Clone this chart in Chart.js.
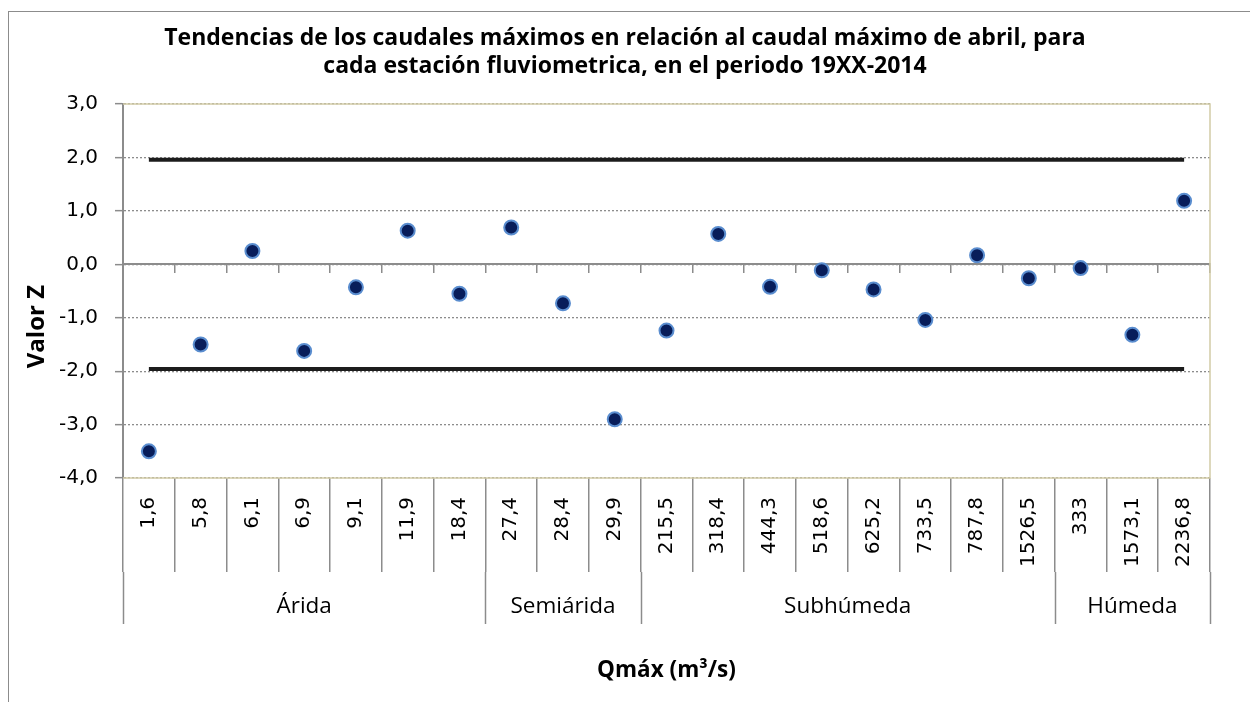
<!DOCTYPE html>
<html><head><meta charset="utf-8">
<script src="https://cdn.jsdelivr.net/npm/chart.js@4.4.1/dist/chart.umd.min.js"></script>
<style>
html,body{margin:0;padding:0;background:#fff;overflow:hidden;width:1250px;height:702px}
#wrap{position:absolute;left:0;top:0;width:1250px;height:702px;overflow:hidden}
#frame{position:absolute;left:8px;top:11px;width:1300px;height:800px;border-left:1.5px solid #8c8c8c;border-top:1.5px solid #8c8c8c;pointer-events:none}
canvas{position:absolute;left:0;top:0}
</style></head><body>
<div id="wrap"><canvas id="c" width="1250" height="702"></canvas><div id="frame"></div></div>
<script>
const categories = ['1,6','5,8','6,1','6,9','9,1','11,9','18,4','27,4','28,4','29,9','215,5','318,4','444,3','518,6','625,2','733,5','787,8','1526,5','333','1573,1','2236,8'];
const zValues = [-3.50,-1.50,0.25,-1.62,-0.43,0.63,-0.55,0.69,-0.73,-2.90,-1.24,0.57,-0.42,-0.11,-0.47,-1.04,0.17,-0.26,-0.07,-1.32,1.19];
const groupNames = ['Árida','Semiárida','Subhúmeda','Húmeda'];
const groupSizes = [7,3,8,3];
const zLimitUpper = 1.96;
const zLimitLower = -1.96;
const titleLines = ['Tendencias de los caudales máximos en relación al caudal máximo de abril, para','cada estación fluviometrica, en el periodo 19XX-2014'];
const yTitle = 'Valor Z';
const xTitle = 'Qmáx (m³/s)';

const GRAY = '#8c8c8c';
const TAN = '#d2cca6';

const plotFrame = {
  id:'plotFrame',
  beforeDatasetsDraw(chart){
    const {ctx, chartArea:ca} = chart;
    ctx.save();
    ctx.strokeStyle = TAN; ctx.lineWidth = 1.5;
    ctx.beginPath();
    ctx.moveTo(ca.left, ca.top); ctx.lineTo(ca.right, ca.top);
    ctx.lineTo(ca.right, ca.bottom); ctx.lineTo(ca.left, ca.bottom);
    ctx.stroke();
    ctx.restore();
  }
};

const yAxisTitle = {
  id:'yAxisTitle',
  afterDraw(chart){
    const {ctx, chartArea:ca} = chart;
    ctx.save();
    ctx.translate(37, ca.top + (ca.bottom - ca.top) * 0.595);
    ctx.rotate(-Math.PI / 2);
    ctx.fillStyle = '#000';
    ctx.font = 'bold 24px "Open Sans"';
    ctx.textAlign = 'center'; ctx.textBaseline = 'middle';
    ctx.fillText(yTitle, 0, 0);
    ctx.restore();
  }
};

const groupLabels = {
  id:'groupLabels',
  afterDraw(chart){
    const {ctx, chartArea:ca} = chart;
    const xs = chart.scales.x;
    const top = ca.bottom + 94, bot = ca.bottom + 146, textY = ca.bottom + 129;
    ctx.save();
    ctx.strokeStyle = GRAY; ctx.lineWidth = 1.5;
    let idx = 0;
    const edges = [0];
    groupSizes.forEach(n => { idx += n; edges.push(idx); });
    edges.forEach(i => {
      const px = Math.round(xs.getPixelForValue(i - 0.5)) + 0.5;
      ctx.beginPath(); ctx.moveTo(px, top); ctx.lineTo(px, bot); ctx.stroke();
    });
    ctx.fillStyle = '#000';
    ctx.font = '22.5px "Open Sans"';
    ctx.textAlign = 'center'; ctx.textBaseline = 'middle';
    groupNames.forEach((name, g) => {
      const l = xs.getPixelForValue(edges[g] - 0.5), r = xs.getPixelForValue(edges[g+1] - 0.5);
      ctx.fillText(name, (l + r) / 2, textY);
    });
    ctx.restore();
  }
};

new Chart(document.getElementById('c'), {
  type:'line',
  data:{
    labels: categories,
    datasets:[
      {label:'Valor Z', data:zValues, showLine:false, pointRadius:7, pointHoverRadius:7,
       pointBackgroundColor:'#081d5a', pointBorderColor:'#5a8dcf', pointBorderWidth:2, order:0},
      {label:'Límite superior', data:[{x:categories[0], y:zLimitUpper},{x:categories[categories.length-1], y:zLimitUpper}],
       borderColor:'#1c1c1c', borderWidth:4, pointRadius:0, order:1},
      {label:'Límite inferior', data:[{x:categories[0], y:zLimitLower},{x:categories[categories.length-1], y:zLimitLower}],
       borderColor:'#1c1c1c', borderWidth:4, pointRadius:0, order:1}
    ]
  },
  options:{
    responsive:false, animation:false,
    layout:{padding:{left:40,right:40,top:0,bottom:0}},
    plugins:{
      legend:{display:false}, tooltip:{enabled:false},
      title:{display:true, text:titleLines, color:'#000',
        font:{family:'Open Sans', weight:'bold', size:23, lineHeight:1.22},
        padding:{top:24,bottom:24}}
    },
    scales:{
      x:{type:'category', offset:true, position:'bottom',
        grid:{offset:true, drawOnChartArea:false, tickLength:94, color:GRAY, lineWidth:1.5},
        border:{display:false},
        ticks:{minRotation:90, maxRotation:90, autoSkip:false, padding:-75, color:'#000',
          font:{family:'DejaVu Sans', size:20}},
        title:{display:true, text:xTitle, color:'#000', font:{family:'Open Sans', weight:'bold', size:22.5}, padding:{top:0,bottom:18}},
        afterFit(s){ s.height = 224; }
      },
      x2:{type:'category', axis:'x', offset:true, position:{y:0},
        grid:{offset:true, drawOnChartArea:false, tickLength:8, color:GRAY, lineWidth:1.5},
        border:{display:true, color:GRAY, width:2},
        ticks:{display:false}
      },
      y:{min:-4, max:3,
        ticks:{stepSize:1, padding:17, color:'#000', font:{family:'DejaVu Sans', size:20},
          callback:v => v.toFixed(1).replace('.', ',')},
        grid:{color:GRAY, lineWidth:1.3, tickLength:8, tickColor:GRAY, tickWidth:1.5, tickBorderDash:[]},
        border:{display:true, color:GRAY, width:2, dash:[2,2]},
        title:{display:false, text:yTitle},
        afterFit(s){ s.width = 83; }
      }
    }
  },
  plugins:[plotFrame, groupLabels, yAxisTitle]
});
</script>
</body></html>
